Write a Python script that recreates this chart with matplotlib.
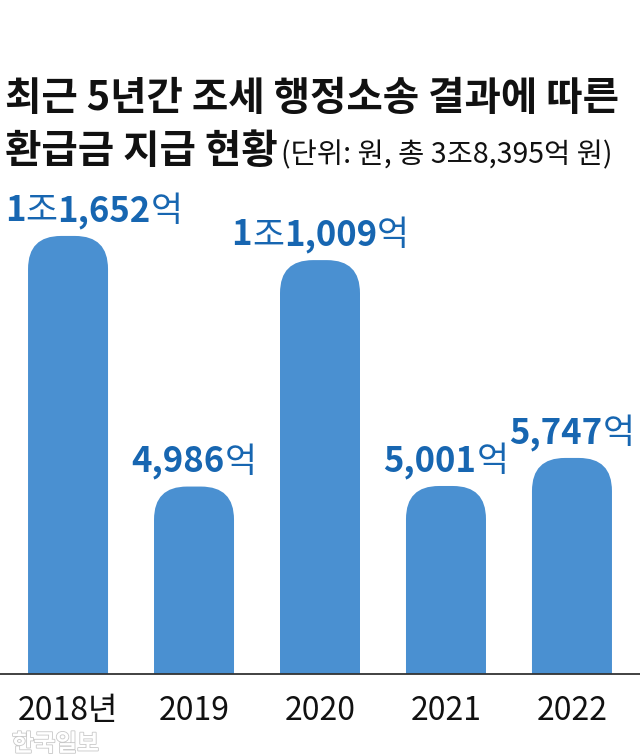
import matplotlib
matplotlib.use("Agg")
import matplotlib.pyplot as plt
from matplotlib.patches import FancyBboxPatch
from matplotlib.offsetbox import TextArea, HPacker, AnnotationBbox
import matplotlib.patheffects as pe

plt.rcParams["font.family"] = ["Noto Sans CJK KR", "DejaVu Sans"]

# 최근 5년간 조세 행정소송 환급금 (단위: 억 원)
years = ["2018년", "2019", "2020", "2021", "2022"]
amounts = [11652, 4986, 11009, 5001, 5747]

TITLE_1 = "최근 5년간 조세 행정소송 결과에 따른"
TITLE_2 = "환급금 지급 현황"
SUBTITLE = "(단위: 원, 총 3조8,395억 원)"
CREDIT = "한국일보"

BAR_COLOR = "#4a90d1"
LABEL_COLOR = "#1766b1"
W, H = 640, 755


def label_parts(v):
    """Split an amount in 억 into ('1','조','1,652','억') style pieces."""
    jo, eok = divmod(v, 10000)
    parts = []
    if jo:
        parts += [(str(jo), True), ("조", False)]
    parts += [(f"{eok:,}", True), ("억", False)]
    return parts


fig = plt.figure(figsize=(W / 100, H / 100), dpi=100)
fig.patch.set_facecolor("white")

# axes: baseline at y=674px, top at y=180px, full width
ax_bottom, ax_top = 674, 180
ax = fig.add_axes([0, (H - ax_bottom) / H, 1, (ax_bottom - ax_top) / H])
ax.set_xlim(-0.54, 4.54)
ax.set_ylim(0, 13140)

x = list(range(len(years)))
bars = ax.bar(x, amounts, width=0.635, color=BAR_COLOR)

# swap plain bars for ones with rounded tops
px_per_x = W / (4.54 + 0.54)
y_per_px = 13140 / (ax_bottom - ax_top)
aspect = y_per_px * px_per_x
r = 33 / px_per_x
for b in bars:
    bx, bw, bh = b.get_x(), b.get_width(), b.get_height()
    b.remove()
    extra = 2 * r * aspect
    ax.add_patch(FancyBboxPatch((bx, -extra), bw, bh + extra,
                                boxstyle=f"round,pad=0,rounding_size={r}",
                                mutation_aspect=aspect,
                                fc=BAR_COLOR, ec="none"))

for s in ["top", "left", "right"]:
    ax.spines[s].set_visible(False)
ax.spines["bottom"].set_color("#333333")
ax.spines["bottom"].set_linewidth(1.3)
ax.set_yticks([])
ax.set_xticks(x)
ax.set_xticklabels(years, fontsize=23, fontweight="light", color="#111111")
ax.tick_params(axis="x", length=0, pad=15)

# value labels above bars
fig.canvas.draw()
renderer = fig.canvas.get_renderer()
for xi, v in zip(x, amounts):
    kids = [TextArea(t, textprops=dict(fontsize=25,
                                       fontweight="bold" if bold else "normal",
                                       color=LABEL_COLOR))
            for t, bold in label_parts(v)]
    box = HPacker(children=kids, align="baseline", pad=0, sep=0)
    ab = AnnotationBbox(box, (xi, v), xybox=(0, 5), boxcoords="offset points",
                        box_alignment=(0.5, 0), frameon=False, pad=0)
    ax.add_artist(ab)
    bb = ab.get_window_extent(renderer)
    if bb.x0 < 5:
        ab.xybox = ((5 - bb.x0) * 72 / fig.dpi, 5)

# title
fig.text(5 / W, 1 - 110 / H, TITLE_1, fontsize=28.5, fontweight="black",
         color="#111111", ha="left", va="baseline")
t2 = fig.text(5 / W, 1 - 163 / H, TITLE_2, fontsize=28.5, fontweight="black",
              color="#111111", ha="left", va="baseline")
bb2 = t2.get_window_extent(renderer)
fig.text((bb2.x1 + 3) / W, 1 - 163 / H, SUBTITLE, fontsize=20.5,
         fontweight="normal", color="#111111", ha="left", va="baseline")

# credit watermark
fig.text(12 / W, 1 - 751 / H, CREDIT, fontsize=17, fontweight="bold",
         color="white", ha="left", va="baseline",
         path_effects=[pe.withStroke(linewidth=1.2, foreground="#c8c8c8")])

fig.savefig("out.png", dpi=100)
